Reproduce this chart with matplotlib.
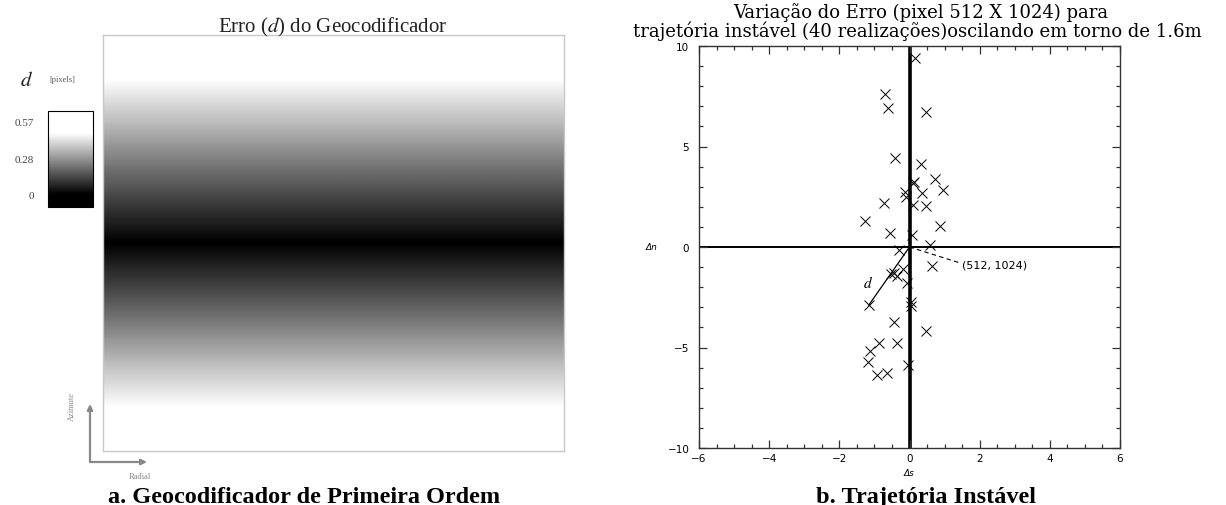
import numpy as np
import matplotlib
matplotlib.use("Agg")
import matplotlib.pyplot as plt
from matplotlib.colors import LinearSegmentedColormap, Normalize
from matplotlib.ticker import MultipleLocator
from matplotlib.patches import FancyArrowPatch

plt.rcParams["mathtext.fontset"] = "stix"

# ---------------- data ----------------
# Panel a: geocoder error d [pixels] along azimuth (top -> bottom)
azimuth_profile_d = [0.57, 0.50, 0.43, 0.36, 0.285, 0.21, 0.14, 0.07, 0.0,
                     0.07, 0.14, 0.21, 0.285, 0.36, 0.43, 0.50, 0.57]
cbar_ticks = [0, 0.28, 0.57]
cbar_ticklabels = ["0", "0.28", "0.57"]

# Panel b: 40 realisations (Delta s, Delta n)
delta_s = [0.15, -0.70, -0.62, 0.48, -0.41, 0.34, 0.10, 0.14, 0.73, 0.96,
           -0.13, 0.36, -0.11, -0.73, 0.10, 0.48, -1.26, 0.86, -0.56, 0.07,
           0.58, -0.31, 0.63, -0.19, -0.45, -0.37, -0.07, -1.16, 0.05, 0.05,
           -0.45, 0.46, -0.86, -0.37, -1.13, -1.18, -0.94, -0.64, -0.04, -0.52]
delta_n = [9.40, 7.62, 6.90, 6.70, 4.45, 4.15, 3.20, 3.22, 3.40, 2.84,
           2.72, 2.68, 2.47, 2.20, 2.10, 2.02, 1.28, 1.05, 0.68, 0.61,
           0.10, -0.17, -0.96, -1.11, -1.28, -1.43, -1.81, -2.89, -2.75, -2.95,
           -3.72, -4.16, -4.78, -4.78, -5.17, -5.74, -6.35, -6.25, -5.89, -1.33]
d_example = (-1.16, -2.89)
ref_label_pos = (1.45, -0.85)
x_ticks = [-6, -4, -2, 0, 2, 4, 6]
y_ticks = [-10, -5, 0, 5, 10]

# ---------------- figure ----------------
W, H = 1226, 506
fig = plt.figure(figsize=(W / 100, H / 100), dpi=100)

def fx(px):
    return px / W

def fy(py):
    return 1 - py / H

# colormap: black below 0, linear to white at 0.48, white above
lo, hi = -0.10, 0.65
norm = Normalize(lo, hi)
p0 = (0 - lo) / (hi - lo)
p1 = (0.48 - lo) / (hi - lo)
cmap = LinearSegmentedColormap.from_list(
    "d", [(0, "black"), (p0, "black"), (p1, "white"), (1, "white")])

# ---- panel a ----
axa = fig.add_axes([fx(103), fy(452), fx(564 - 103), (452 - 36) / H])
img = np.array(azimuth_profile_d)[:, None] * np.ones((1, 2))
im = axa.imshow(img, cmap=cmap, norm=norm, aspect="auto",
                interpolation="bilinear", extent=[0, 1, 0, 1])
axa.set_xticks([])
axa.set_yticks([])
for s in axa.spines.values():
    s.set_color("#c8c8c8")
    s.set_linewidth(1.0)
fig.text(fx(333), fy(27), "Erro ($d$) do Geocodificador", ha="center", va="center",
         fontsize=15, family="Liberation Serif", color="#222222")

cax = fig.add_axes([fx(48), fy(208), fx(93 - 48), (208 - 112) / H])
cb = fig.colorbar(im, cax=cax, ticks=cbar_ticks)
cb.ax.yaxis.set_ticks_position("left")
cb.ax.set_yticklabels(cbar_ticklabels, family="Liberation Serif", fontsize=8,
                      color="#444444")
cb.ax.tick_params(length=0, pad=10)
cb.outline.set_linewidth(0.8)
fig.text(fx(26), fy(80), "$d$", ha="center", va="center", fontsize=15,
         color="#222222")
fig.text(fx(62), fy(80), "[pixels]", ha="center", va="center", fontsize=6,
         family="Liberation Serif", color="#555555")

# orientation arrows
arrow_kw = dict(arrowstyle="-|>", color="#888888", lw=1.6, mutation_scale=8,
                shrinkA=0, shrinkB=0)
fig.add_artist(FancyArrowPatch((90, H - 463), (90, H - 405), transform=None, **arrow_kw))
fig.add_artist(FancyArrowPatch((90, H - 463), (147, H - 463), transform=None, **arrow_kw))
fig.text(fx(72), fy(407), "Azimute", rotation=90, ha="center", va="center",
         fontsize=6, family="Liberation Serif", color="#888888")
fig.text(fx(140), fy(477), "Radial", ha="center", va="center",
         fontsize=6, family="Liberation Serif", color="#888888")
fig.text(fx(304), fy(503), "a. Geocodificador de Primeira Ordem", ha="center",
         va="baseline", fontsize=17.5, fontweight="bold", family="Liberation Serif")

# ---- panel b ----
axb = fig.add_axes([fx(699), fy(449), fx(1120 - 699), (449 - 47) / H])
axb.set_xlim(-6, 6)
axb.set_ylim(-10, 10)
axb.axhline(0, color="black", lw=1.4, zorder=1)
axb.axvline(0, color="black", lw=2.6, zorder=1)
axb.plot(delta_s, delta_n, linestyle="none", marker="x", color="black",
         markersize=6.5, markeredgewidth=0.7, zorder=3)
axb.plot([0, d_example[0]], [0, d_example[1]], color="black", lw=0.9)
axb.plot([0, ref_label_pos[0]], [0, ref_label_pos[1] + 0.05], color="black",
         lw=0.8, linestyle=(0, (4, 3)))
axb.text(ref_label_pos[0] + 0.05, ref_label_pos[1], "(512, 1024)", ha="left",
         va="center", fontsize=8, family="DejaVu Sans")
axb.text(-1.17, -1.74, "$d$", ha="center", va="center", fontsize=11)
axb.set_xticks(x_ticks)
axb.set_yticks(y_ticks)
axb.xaxis.set_minor_locator(MultipleLocator(0.5))
axb.yaxis.set_minor_locator(MultipleLocator(1))
axb.tick_params(which="both", direction="in", top=True, right=True,
                labelsize=7.5, width=0.9, color="#333333")
axb.tick_params(which="major", length=6)
axb.tick_params(which="minor", length=3)
axb.tick_params(axis="y", pad=7)
for s in axb.spines.values():
    s.set_color("#333333")
    s.set_linewidth(1.0)
fig.text(fx(652), fy(248), "Δn", ha="center", va="center", fontsize=6.5,
         style="italic")
fig.text(fx(909), fy(474), "Δs", ha="center", va="center", fontsize=6.5,
         style="italic")
fig.text(fx(921), fy(13), "Variação do Erro (pixel 512 X 1024) para",
         ha="center", va="center", fontsize=13, family="DejaVu Serif")
fig.text(fx(917), fy(31),
         "trajetória instável (40 realizações)oscilando em torno de 1.6m",
         ha="center", va="center", fontsize=13, family="DejaVu Serif")
fig.text(fx(926), fy(503), "b. Trajetória Instável", ha="center", va="baseline",
         fontsize=17.5, fontweight="bold", family="Liberation Serif")

fig.savefig("out.png", dpi=100)
